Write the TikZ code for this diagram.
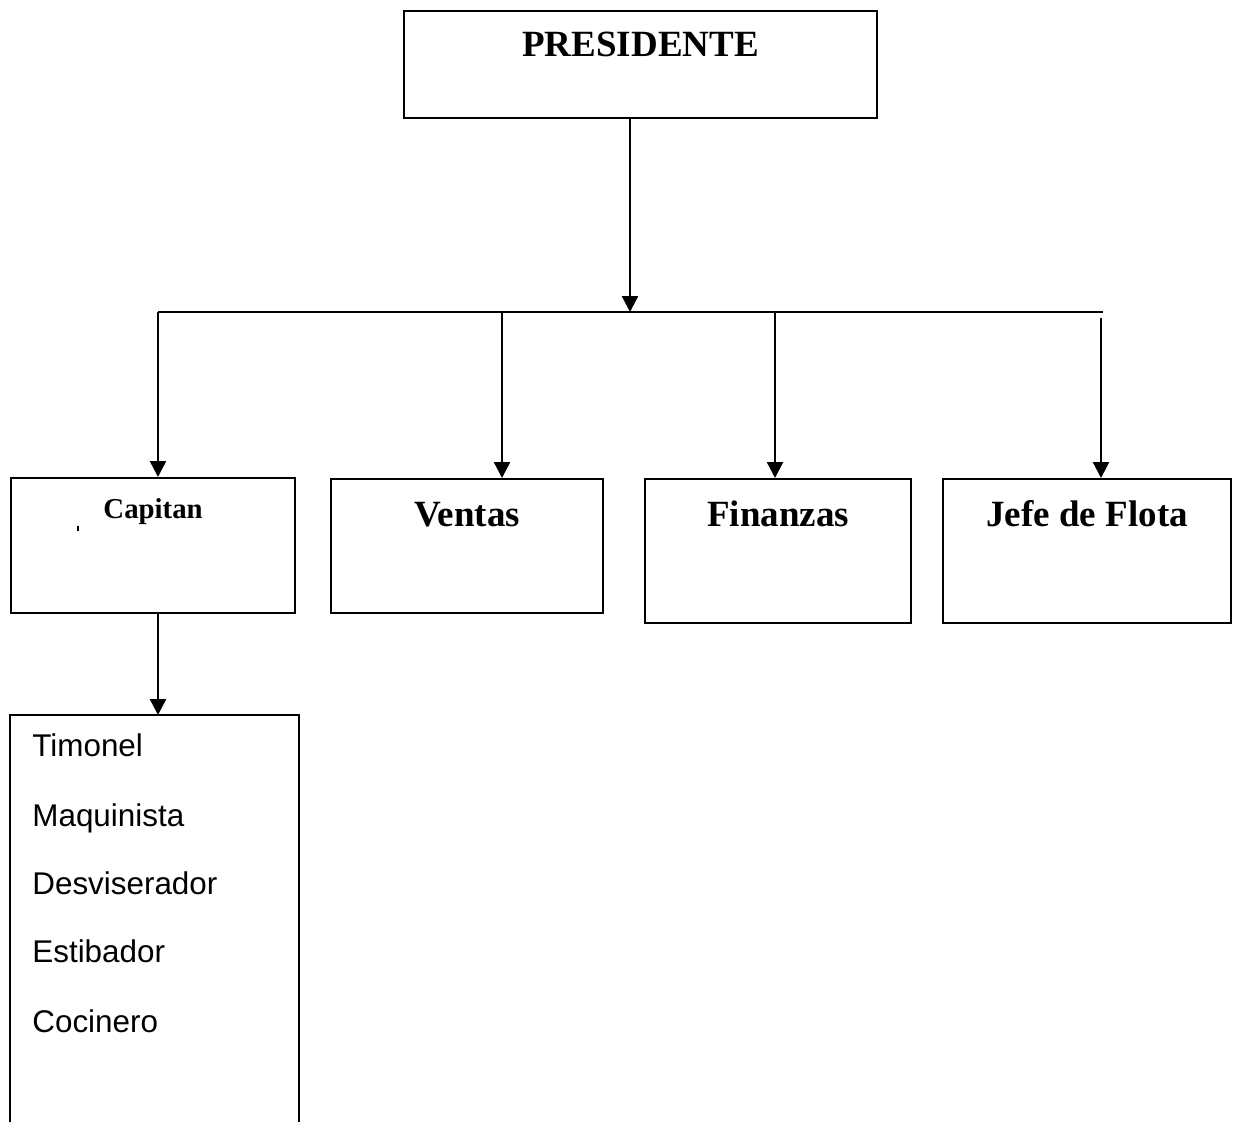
\documentclass[tikz,border=0pt]{standalone}
\usepackage{fontspec}
\setmainfont{Liberation Serif}
\newfontfamily\arialfont{Liberation Sans}
\usetikzlibrary{arrows.meta}
\tikzset{
  box/.style={draw, line width=1.1pt, inner sep=0pt, anchor=north west,
    font=\bfseries\fontsize{18.5}{22}\selectfont},
  arr/.style={line width=1.2pt, -{Triangle[length=8pt,width=8pt]}},
  conn/.style={line width=1.1pt},
  item/.style={anchor=base west, inner sep=0pt,
    font=\arialfont\fontsize{15.7}{18}\selectfont}
}
\begin{document}
\begin{tikzpicture}[x=0.5pt,y=-0.5pt]
\useasboundingbox (0,0) rectangle (1234,1121);
% boxes
\node[box, minimum width=236.5pt, text height=22.5pt, text depth=31pt] (pres) at (403,10) {PRESIDENTE};
\node[box, minimum width=142pt, text height=20pt, text depth=47.5pt,
      font=\bfseries\fontsize{14.4}{17}\selectfont] (cap) at (10,477) {Capitan};
\node[box, minimum width=136pt, text height=23.5pt, text depth=43.5pt] (ven) at (330,478) {Ventas};
\node[box, minimum width=133pt, text height=23.5pt, text depth=48.5pt] (fin) at (644,478) {Finanzas};
\node[box, minimum width=144pt, text height=23.5pt, text depth=48.5pt] (jef) at (942,478) {Jefe de Flota};
% crew list box (open at the bottom)
\node[anchor=north west, inner sep=0pt, minimum width=144pt, minimum height=203pt] (crew) at (10,715) {};
\draw[conn] (crew.south west) |- (crew.north east) -- (crew.south east);
\node[item] (i1) at (32,756) {Timonel};
\node[item] (i2) at (32,826) {Maquinista};
\node[item] (i3) at (32,894) {Desviserador};
\node[item] (i4) at (32,962) {Estibador};
\node[item] (i5) at (32,1032) {Cocinero};
% stray mark
\fill (77,526) rectangle (79,531);
% connectors
\coordinate (bt) at (630,312);
\coordinate (bl) at (158,312);
\coordinate (br) at (1103,312);
\coordinate (d2) at (502,312);
\coordinate (d3) at (775,312);
\coordinate (d4) at (1101,318);
\draw[arr] (bt |- pres.south) -- (bt);
\draw[conn] (bl) -- (br);
\draw[arr] (bl) -- (bl |- cap.north);
\draw[arr] (d2) -- (d2 |- ven.north);
\draw[arr] (d3) -- (d3 |- fin.north);
\draw[arr] (d4) -- (d4 |- jef.north);
\draw[arr] (bl |- cap.south) -- (bl |- crew.north);
\end{tikzpicture}
\end{document}
